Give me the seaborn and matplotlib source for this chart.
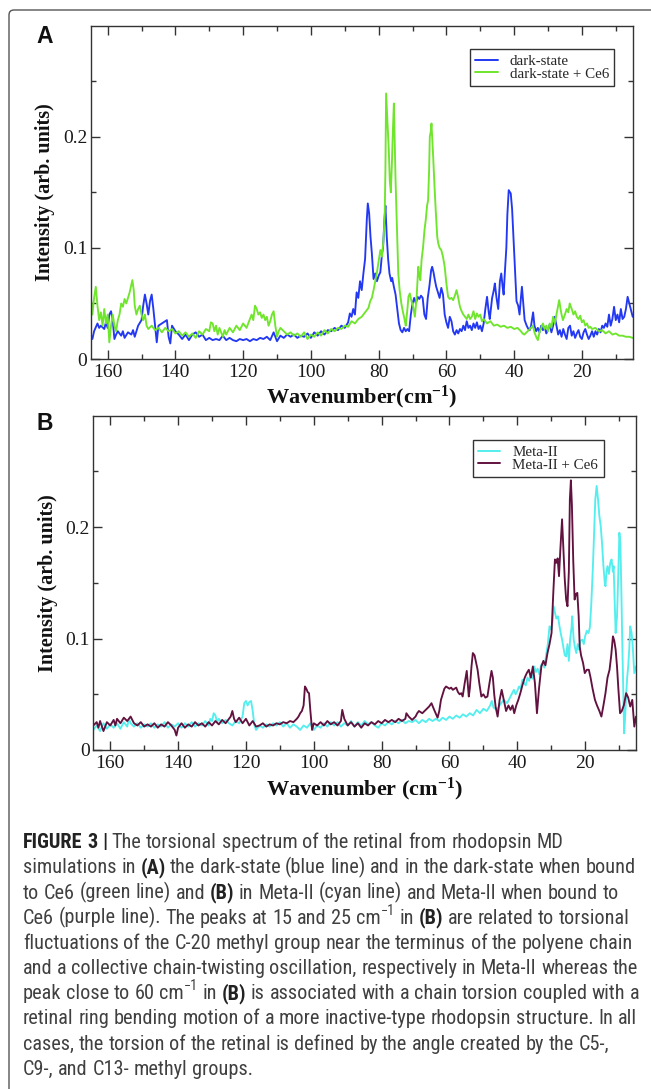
import re
import numpy as np
import pandas as pd
import matplotlib
matplotlib.use("Agg")
import matplotlib.pyplot as plt
import seaborn as sns
from matplotlib import font_manager
from matplotlib.font_manager import FontProperties
from matplotlib.patches import FancyBboxPatch
from matplotlib.ticker import FixedLocator
from matplotlib.transforms import IdentityTransform

# ---------------- data (wavenumber cm^-1, intensity arb. units) ----------------
dark_state = [
    (165, 0.022), (164.5, 0.018), (164, 0.025), (163, 0.032), (162.5, 0.028), (162, 0.030),
    (161, 0.027), (160.5, 0.033), (160, 0.028), (159.5, 0.040), (159, 0.043), (158.5, 0.035),
    (158, 0.018), (157.5, 0.022), (157, 0.025), (156, 0.021), (155.5, 0.025), (155, 0.019),
    (154, 0.024), (153, 0.022), (152.5, 0.026), (152, 0.020), (151, 0.030), (150, 0.035),
    (149.5, 0.048), (149, 0.058), (148.5, 0.050), (148, 0.040), (147.5, 0.052), (147, 0.058),
    (146.5, 0.045), (146, 0.030), (145.5, 0.015), (145, 0.030), (144, 0.032), (143, 0.034),
    (142.5, 0.035), (142, 0.020), (141.5, 0.014), (141, 0.030), (140, 0.025), (139, 0.022),
    (138, 0.018), (137, 0.022), (136, 0.017), (135, 0.022), (134, 0.024), (133, 0.020),
    (132, 0.022), (131, 0.017), (130, 0.019), (129, 0.017), (128, 0.018), (127, 0.017),
    (126, 0.021), (125, 0.017), (124, 0.019), (123, 0.017), (122, 0.016), (121, 0.018),
    (120, 0.017), (119, 0.018), (118, 0.016), (117, 0.018), (116, 0.017), (115, 0.019),
    (114, 0.018), (113, 0.020), (112, 0.017), (111, 0.024), (110, 0.016), (109, 0.021),
    (108, 0.019), (107, 0.022), (106, 0.020), (105, 0.022), (104, 0.019), (103, 0.021),
    (102, 0.020), (101, 0.023), (100, 0.019), (99, 0.024), (98, 0.021), (97, 0.025),
    (96, 0.022), (95, 0.026), (94, 0.025), (93, 0.028), (92, 0.026), (91, 0.030),
    (90, 0.028), (89, 0.033), (88.5, 0.041), (88, 0.038), (87.5, 0.045), (87, 0.040),
    (86.5, 0.060), (86, 0.055), (85.5, 0.070), (85, 0.062), (84.5, 0.077), (84, 0.090),
    (83.5, 0.125), (83.2, 0.140), (82.8, 0.131), (82.4, 0.110), (82, 0.095), (81.5, 0.072),
    (81, 0.077), (80.5, 0.070), (80, 0.075), (79.5, 0.078), (79, 0.095), (78.7, 0.100),
    (78.3, 0.125), (78, 0.138), (77.6, 0.110), (77.2, 0.090), (76.8, 0.077), (76.3, 0.070),
    (76, 0.073), (75.5, 0.065), (75, 0.058), (74.5, 0.045), (74, 0.032), (73.5, 0.026),
    (73, 0.024), (72.5, 0.028), (72, 0.025), (71.5, 0.027), (71, 0.025), (70.5, 0.040),
    (70, 0.050), (69.5, 0.055), (69, 0.050), (68.5, 0.056), (68, 0.054), (67.5, 0.057),
    (67, 0.055), (66.5, 0.040), (66, 0.036), (65.5, 0.055), (65, 0.066), (64.5, 0.080),
    (64.2, 0.083), (63.8, 0.078), (63.4, 0.071), (63, 0.065), (62.5, 0.060), (62, 0.055),
    (61.5, 0.064), (61, 0.058), (60.5, 0.040), (60, 0.033), (59.5, 0.028), (59, 0.038),
    (58.5, 0.034), (58, 0.025), (57.5, 0.022), (57, 0.026), (56.5, 0.023), (56, 0.027),
    (55.5, 0.025), (55, 0.030), (54.5, 0.026), (54, 0.034), (53.5, 0.028), (53, 0.030),
    (52.5, 0.026), (52, 0.032), (51.5, 0.028), (51, 0.033), (50.5, 0.027), (50, 0.030),
    (49.5, 0.025), (49, 0.032), (48.5, 0.045), (48, 0.056), (47.5, 0.042), (47.2, 0.036),
    (46.5, 0.055), (46, 0.062), (45.7, 0.068), (45.2, 0.055), (44.7, 0.045), (44.2, 0.070),
    (43.8, 0.077), (43.4, 0.065), (43.1, 0.058), (42.7, 0.080), (42.3, 0.100), (42, 0.130),
    (41.6, 0.152), (41, 0.149), (40.6, 0.135), (40.2, 0.110), (39.8, 0.085), (39.3, 0.052),
    (38.8, 0.048), (38.4, 0.040), (38, 0.055), (37.7, 0.065), (37.3, 0.050), (36.9, 0.035),
    (36.3, 0.030), (35.8, 0.027), (35.4, 0.026), (35, 0.030), (34.4, 0.042), (34, 0.030),
    (33.5, 0.025), (33, 0.028), (32.5, 0.024), (32, 0.030), (31.5, 0.026), (31, 0.029),
    (30.5, 0.023), (30, 0.027), (29.5, 0.031), (29, 0.024), (28.5, 0.030), (28, 0.038),
    (27.5, 0.030), (27, 0.022), (26.5, 0.026), (26, 0.020), (25.5, 0.027), (25, 0.022),
    (24.5, 0.018), (24, 0.028), (23.5, 0.030), (23, 0.021), (22.5, 0.025), (22, 0.019),
    (21.5, 0.023), (21, 0.026), (20.5, 0.020), (20, 0.018), (19.5, 0.024), (19, 0.027),
    (18.5, 0.022), (18, 0.018), (17.5, 0.021), (17, 0.025), (16.5, 0.020), (16, 0.025),
    (15.5, 0.022), (15, 0.027), (14.5, 0.024), (14, 0.030), (13.5, 0.028), (13, 0.032),
    (12.5, 0.029), (12, 0.040), (11.5, 0.030), (11, 0.036), (10.5, 0.047), (10, 0.035),
    (9.5, 0.040), (9, 0.033), (8.5, 0.045), (8, 0.036), (7.5, 0.038), (7, 0.045),
    (6.5, 0.056), (6, 0.050), (5.5, 0.044), (5, 0.038),
]

dark_state_ce6 = [
    (165, 0.058), (164.5, 0.040), (164, 0.055), (163.5, 0.065), (163, 0.048), (162.5, 0.035),
    (162, 0.042), (161.5, 0.030), (161, 0.045), (160.5, 0.032), (160, 0.040), (159.5, 0.015),
    (159, 0.030), (158.5, 0.040), (158, 0.030), (157.5, 0.025), (157, 0.035), (156.5, 0.040),
    (156, 0.050), (155.5, 0.047), (155, 0.054), (154.5, 0.050), (154, 0.055), (153.5, 0.060),
    (153, 0.067), (152.7, 0.071), (152.3, 0.062), (152, 0.048), (151.5, 0.040), (151, 0.045),
    (150.5, 0.048), (150, 0.040), (149.5, 0.035), (149, 0.040), (148.5, 0.030), (148, 0.027),
    (147, 0.030), (146, 0.026), (145, 0.028), (144, 0.024), (143, 0.028), (142, 0.025),
    (141, 0.027), (140, 0.023), (139, 0.025), (138, 0.021), (137, 0.024), (136, 0.020),
    (135, 0.023), (134, 0.019), (133, 0.025), (132, 0.022), (131, 0.027), (130, 0.025),
    (129.5, 0.033), (129, 0.032), (128.5, 0.025), (128, 0.030), (127.5, 0.022), (127, 0.028),
    (126.5, 0.024), (126, 0.020), (125.5, 0.026), (125, 0.022), (124, 0.028), (123, 0.024),
    (122, 0.030), (121, 0.026), (120, 0.032), (119, 0.028), (118, 0.036), (117.5, 0.040),
    (117, 0.035), (116.5, 0.048), (116, 0.045), (115.5, 0.040), (115, 0.042), (114.5, 0.037),
    (114, 0.040), (113.5, 0.035), (113, 0.038), (112.5, 0.030), (112, 0.034), (111.5, 0.040),
    (111, 0.043), (110.5, 0.030), (110, 0.020), (109.5, 0.025), (109, 0.028), (108, 0.025),
    (107, 0.022), (106, 0.024), (105, 0.021), (104, 0.023), (103, 0.020), (102, 0.024),
    (101, 0.018), (100, 0.022), (99, 0.020), (98, 0.024), (97, 0.021), (96, 0.026),
    (95, 0.023), (94, 0.027), (93, 0.025), (92, 0.028), (91, 0.027), (90, 0.030),
    (89, 0.029), (88, 0.034), (87, 0.032), (86, 0.036), (85, 0.038), (84, 0.042),
    (83, 0.046), (82.5, 0.052), (82, 0.055), (81.5, 0.062), (81, 0.070), (80.5, 0.078),
    (80, 0.088), (79.5, 0.098), (79, 0.092), (78.5, 0.110), (78.2, 0.131), (78, 0.170),
    (77.8, 0.239), (77.5, 0.220), (77, 0.188), (76.7, 0.160), (76.4, 0.150), (76.1, 0.175),
    (75.8, 0.205), (75.5, 0.230), (75.2, 0.190), (75, 0.160), (74.6, 0.120), (74.2, 0.077),
    (73.8, 0.062), (73.3, 0.050), (72.8, 0.042), (72.3, 0.035), (72, 0.030), (71.5, 0.045),
    (71.2, 0.056), (70.8, 0.059), (70.3, 0.052), (69.8, 0.047), (69.3, 0.038), (68.8, 0.055),
    (68.3, 0.083), (68, 0.075), (67.7, 0.071), (67.3, 0.090), (66.9, 0.100), (66.5, 0.115),
    (66.1, 0.125), (65.7, 0.138), (65.4, 0.143), (65.1, 0.170), (64.9, 0.200), (64.6, 0.205),
    (64.4, 0.212), (64.1, 0.195), (63.9, 0.182), (63.5, 0.155), (63.1, 0.131), (62.7, 0.110),
    (62.4, 0.104), (62, 0.100), (61.5, 0.098), (61, 0.092), (60.5, 0.083), (60, 0.068),
    (59.5, 0.056), (59, 0.054), (58.5, 0.055), (58, 0.053), (57.5, 0.057), (57, 0.062),
    (56.5, 0.055), (56, 0.047), (55.5, 0.043), (55, 0.040), (54.5, 0.038), (54, 0.036),
    (53.5, 0.040), (53, 0.036), (52.5, 0.038), (52, 0.043), (51.5, 0.036), (51, 0.041),
    (50.5, 0.038), (50, 0.040), (49.5, 0.034), (49, 0.036), (48, 0.032), (47, 0.034),
    (46, 0.030), (45, 0.031), (44, 0.029), (43, 0.030), (42, 0.028), (41, 0.029),
    (40, 0.027), (39, 0.028), (38, 0.025), (37.5, 0.023), (37, 0.022), (36, 0.025),
    (35, 0.028), (34.5, 0.030), (34, 0.024), (33.5, 0.020), (33, 0.017), (32.5, 0.024),
    (32, 0.028), (31.5, 0.032), (31, 0.027), (30.5, 0.030), (30, 0.025), (29.5, 0.032),
    (29, 0.028), (28.5, 0.038), (28, 0.032), (27.5, 0.040), (27, 0.048), (26.7, 0.053),
    (26.3, 0.045), (26, 0.040), (25.6, 0.035), (25, 0.040), (24.5, 0.045), (24, 0.042),
    (23.6, 0.050), (23, 0.045), (22.5, 0.040), (22, 0.043), (21.5, 0.038), (21, 0.036),
    (20.5, 0.039), (20, 0.033), (19.5, 0.035), (19, 0.030), (18.5, 0.032), (18, 0.028),
    (17.5, 0.029), (17, 0.027), (16, 0.028), (15, 0.025), (14, 0.026), (13, 0.023),
    (12, 0.025), (11, 0.022), (10, 0.023), (9, 0.021), (8, 0.021), (7, 0.020),
    (6, 0.020), (5, 0.019),
]

meta_ii = [
    (165, 0.018), (164, 0.022), (163, 0.017), (162, 0.024), (161, 0.019), (160, 0.023),
    (159, 0.020), (158, 0.024), (157, 0.019), (156, 0.025), (155, 0.021), (154.5, 0.028),
    (154, 0.024), (153, 0.021), (152, 0.024), (151, 0.020), (150, 0.023), (149, 0.021),
    (148, 0.024), (147, 0.020), (146, 0.023), (145, 0.021), (144, 0.025), (143, 0.020),
    (142, 0.023), (141, 0.021), (140, 0.024), (139, 0.020), (138, 0.024), (137, 0.021),
    (136, 0.025), (135, 0.021), (134, 0.024), (133, 0.022), (132, 0.026), (131, 0.022),
    (130.5, 0.028), (130, 0.026), (129.5, 0.033), (129, 0.031), (128.5, 0.025), (128, 0.028),
    (127, 0.024), (126, 0.027), (125, 0.024), (124, 0.022), (123, 0.026), (122, 0.024),
    (121, 0.030), (120.5, 0.042), (120, 0.044), (119.5, 0.040), (119, 0.043), (118.5, 0.044),
    (118, 0.035), (117.5, 0.022), (117, 0.018), (116, 0.022), (115, 0.020), (114, 0.023),
    (113, 0.021), (112, 0.024), (111, 0.022), (110, 0.025), (109, 0.021), (108, 0.024),
    (107, 0.020), (106, 0.023), (105, 0.021), (104, 0.018), (103, 0.022), (102, 0.020),
    (101, 0.024), (100, 0.018), (99, 0.022), (98, 0.020), (97, 0.024), (96, 0.021),
    (95, 0.025), (94, 0.022), (93, 0.025), (92, 0.021), (91, 0.024), (90, 0.022),
    (89, 0.026), (88, 0.021), (87, 0.025), (86, 0.022), (85, 0.026), (84, 0.023),
    (83, 0.025), (82, 0.022), (81, 0.020), (80, 0.024), (79, 0.022), (78, 0.025),
    (77, 0.023), (76, 0.026), (75, 0.024), (74, 0.027), (73, 0.024), (72, 0.026),
    (71, 0.025), (70, 0.027), (69, 0.024), (68, 0.027), (67, 0.025), (66, 0.028),
    (65, 0.026), (64, 0.028), (63, 0.026), (62, 0.029), (61, 0.027), (60, 0.030),
    (59, 0.028), (58, 0.031), (57, 0.029), (56, 0.032), (55, 0.030), (54, 0.033),
    (53, 0.031), (52, 0.036), (51, 0.033), (50, 0.037), (49, 0.035), (48, 0.040),
    (47.5, 0.044), (47, 0.038), (46, 0.036), (45, 0.041), (44, 0.045), (43, 0.042),
    (42, 0.048), (41, 0.054), (40.5, 0.050), (40, 0.053), (39.5, 0.057), (39, 0.055),
    (38.5, 0.063), (38, 0.060), (37.5, 0.058), (37, 0.065), (36.5, 0.062), (36, 0.068),
    (35.5, 0.064), (35, 0.075), (34.5, 0.070), (34, 0.073), (33.5, 0.068), (33, 0.076),
    (32.4, 0.078), (32, 0.074), (31.5, 0.085), (31, 0.095), (30.5, 0.111), (30, 0.108),
    (29.6, 0.115), (29.3, 0.129), (29, 0.125), (28.5, 0.118), (28, 0.120), (27.5, 0.110),
    (27.2, 0.105), (26.8, 0.099), (26.4, 0.092), (26, 0.085), (25.6, 0.084), (25.2, 0.095),
    (24.8, 0.080), (24.4, 0.100), (24, 0.110), (23.8, 0.120), (23.4, 0.100), (23, 0.092),
    (22.6, 0.087), (22.2, 0.095), (21.8, 0.090), (21.4, 0.098), (20.8, 0.099), (20.4, 0.095),
    (20, 0.102), (19.5, 0.107), (19, 0.105), (18.6, 0.110), (18.2, 0.130), (17.7, 0.165),
    (17.3, 0.200), (17, 0.225), (16.6, 0.237), (16.2, 0.225), (15.8, 0.210), (15.4, 0.201),
    (15, 0.185), (14.6, 0.165), (14.2, 0.150), (14, 0.147), (13.7, 0.160), (13.4, 0.165),
    (13, 0.158), (12.6, 0.168), (12.2, 0.171), (11.8, 0.160), (11.6, 0.165), (11.3, 0.135),
    (11, 0.105), (10.6, 0.120), (10.2, 0.160), (9.9, 0.195), (9.6, 0.185), (9.3, 0.140),
    (9.1, 0.105), (8.8, 0.060), (8.5, 0.015), (8.2, 0.030), (7.9, 0.050), (7.6, 0.065),
    (7.3, 0.075), (7, 0.090), (6.7, 0.111), (6.3, 0.105), (6, 0.095), (5.5, 0.069),
    (5, 0.075),
]

meta_ii_ce6 = [
    (165, 0.022), (164, 0.025), (163.5, 0.020), (163, 0.026), (162, 0.017), (161, 0.025),
    (160, 0.022), (159, 0.027), (158.5, 0.022), (158, 0.028), (157, 0.024), (156, 0.029),
    (155, 0.026), (154, 0.030), (153, 0.024), (152, 0.022), (151, 0.025), (150, 0.021),
    (149, 0.023), (148, 0.021), (147, 0.024), (146, 0.020), (145, 0.023), (144, 0.021),
    (143, 0.025), (142, 0.022), (141, 0.018), (140.5, 0.013), (140, 0.020), (139, 0.024),
    (138, 0.020), (137, 0.023), (136, 0.021), (135, 0.025), (134, 0.022), (133, 0.024),
    (132, 0.021), (131, 0.025), (130, 0.022), (129, 0.026), (128, 0.023), (127, 0.027),
    (126, 0.024), (125, 0.028), (124.5, 0.030), (124, 0.035), (123.5, 0.028), (123, 0.025),
    (122, 0.029), (121, 0.024), (120, 0.028), (119, 0.022), (118, 0.026), (117, 0.021),
    (116, 0.022), (115, 0.024), (114, 0.021), (113, 0.023), (112, 0.022), (111, 0.024),
    (110, 0.023), (109, 0.025), (108, 0.024), (107, 0.026), (106, 0.025), (105, 0.028),
    (104.5, 0.030), (104, 0.033), (103.5, 0.035), (103, 0.040), (102.6, 0.057), (102.2, 0.055),
    (101.8, 0.052), (101.4, 0.051), (101, 0.035), (100.5, 0.018), (100, 0.024), (99, 0.022),
    (98, 0.025), (97, 0.022), (96, 0.026), (95, 0.023), (94, 0.025), (93, 0.022),
    (92, 0.026), (91.6, 0.036), (91, 0.028), (90, 0.022), (89, 0.025), (88, 0.021),
    (87, 0.024), (86, 0.020), (85, 0.024), (84, 0.022), (83, 0.025), (82, 0.023),
    (81, 0.026), (80, 0.024), (79, 0.027), (78, 0.025), (77, 0.027), (76, 0.025),
    (75, 0.028), (74, 0.026), (73, 0.028), (72.7, 0.033), (72, 0.030), (71, 0.027),
    (70, 0.030), (69.5, 0.033), (69, 0.035), (68, 0.033), (67, 0.036), (66, 0.039),
    (65.3, 0.042), (64.5, 0.036), (63.5, 0.029), (63, 0.035), (62.5, 0.045), (62, 0.050),
    (61.5, 0.055), (61, 0.057), (60.5, 0.056), (60, 0.055), (59.5, 0.056), (59, 0.054),
    (58.5, 0.055), (58, 0.056), (57.5, 0.052), (57, 0.050), (56.5, 0.051), (56.1, 0.048),
    (55.5, 0.060), (54.9, 0.071), (54.6, 0.060), (54.3, 0.048), (54, 0.055), (53.5, 0.075),
    (53.1, 0.087), (52.6, 0.085), (52.1, 0.078), (51.7, 0.072), (51.2, 0.060), (50.6, 0.048),
    (50, 0.050), (49.4, 0.047), (48.8, 0.048), (48.2, 0.060), (47.6, 0.071), (47.2, 0.065),
    (46.8, 0.050), (46.4, 0.039), (45.8, 0.030), (45.2, 0.045), (44.6, 0.054), (44, 0.045),
    (43.3, 0.035), (42.6, 0.040), (42, 0.036), (41.4, 0.040), (40.9, 0.033), (40.3, 0.040),
    (39.7, 0.045), (39.1, 0.051), (38.5, 0.058), (37.8, 0.065), (37.2, 0.069), (36.6, 0.072),
    (36, 0.065), (35.4, 0.075), (34.8, 0.060), (34.2, 0.033), (33.6, 0.055), (32.9, 0.075),
    (32.3, 0.080), (31.7, 0.076), (31.1, 0.087), (30.5, 0.095), (29.9, 0.105), (29.4, 0.140),
    (28.9, 0.171), (28.5, 0.168), (28.1, 0.172), (27.7, 0.156), (27.3, 0.180), (26.8, 0.207),
    (26.4, 0.180), (26, 0.153), (25.6, 0.135), (25.2, 0.129), (24.8, 0.160), (24.5, 0.225),
    (24.2, 0.242), (23.9, 0.220), (23.5, 0.170), (23.1, 0.135), (22.7, 0.140), (22.3, 0.141),
    (21.9, 0.120), (21.6, 0.093), (21.2, 0.085), (20.6, 0.078), (20.1, 0.069), (19.5, 0.072),
    (18.9, 0.072), (18.4, 0.065), (17.8, 0.055), (17.1, 0.045), (16.5, 0.040), (15.8, 0.035),
    (15.2, 0.030), (14.6, 0.040), (14, 0.051), (13.4, 0.065), (12.8, 0.072), (12.3, 0.085),
    (11.8, 0.102), (11.4, 0.098), (11, 0.090), (10.6, 0.075), (10.2, 0.055), (9.7, 0.033),
    (9.2, 0.035), (8.6, 0.040), (7.9, 0.051), (7.3, 0.047), (6.7, 0.039), (6.1, 0.045),
    (5.5, 0.021), (5, 0.030),
]

names_a = ["dark-state", "dark-state + Ce6"]
names_b = ["Meta-II", "Meta-II + Ce6"]
colors_a = ["#2238f2", "#6fe52c"]
colors_b = ["#55eeee", "#62123f"]
x_major = [160, 140, 120, 100, 80, 60, 40, 20]
x_minor = [150, 130, 110, 90, 70, 50, 30, 10]
y_major = [0, 0.1, 0.2]
y_major_labels = ["0", "0.1", "0.2"]
y_minor = [0.05, 0.15, 0.25]

caption_lines = [
    "**FIGURE 3 |** The torsional spectrum of the retinal from rhodopsin MD",
    "simulations in **(A)** the dark-state (blue line) and in the dark-state when bound",
    "to Ce6 (green line) and **(B)** in Meta-II (cyan line) and Meta-II when bound to",
    "Ce6 (purple line). The peaks at 15 and 25 cm^{\u22121} in **(B)** are related to torsional",
    "fluctuations of the C-20 methyl group near the terminus of the polyene chain",
    "and a collective chain-twisting oscillation, respectively in Meta-II whereas the",
    "peak close to 60 cm^{\u22121} in **(B)** is associated with a chain torsion coupled with a",
    "retinal ring bending motion of a more inactive-type rhodopsin structure. In all",
    "cases, the torsion of the retinal is defined by the angle created by the C5-,",
    "C9-, and C13- methyl groups.",
]

# ---------------- style ----------------
W, H = 651, 1089
sns.set_style("ticks")
plt.rcParams["font.family"] = ["Liberation Serif", "DejaVu Serif"]
plt.rcParams["mathtext.fontset"] = "custom"
plt.rcParams["mathtext.rm"] = "Liberation Serif"
plt.rcParams["mathtext.bf"] = "Liberation Serif:bold"
plt.rcParams["mathtext.it"] = "Liberation Serif:italic"
plt.rcParams["axes.edgecolor"] = "#333333"

avail = {f.name for f in font_manager.fontManager.ttflist}
cap_family = "Liberation Sans"
for cand in ["Liberation Sans Narrow", "Roboto Condensed", "Open Sans Condensed", "Liberation Sans"]:
    if cand in avail:
        cap_family = cand
        break

fig = plt.figure(figsize=(W / 100, H / 100), dpi=100)
fig.patch.set_facecolor("white")


def px_rect(left, top, right, bottom):
    return [left / W, 1 - bottom / H, (right - left) / W, (bottom - top) / H]


axA = fig.add_axes(px_rect(90.7, 25.7, 632.7, 359.0))
axB = fig.add_axes(px_rect(93.3, 415.7, 636.0, 750.0))


def draw_panel(ax, series, names, colors, xlabel, xlab_y, leg_anchor):
    frames = []
    for s, n in zip(series, names):
        wn, inten = zip(*s)
        frames.append(pd.DataFrame({"wn": wn, "intensity": inten, "series": n}))
    df = pd.concat(frames, ignore_index=True)
    sns.lineplot(data=df, x="wn", y="intensity", hue="series", hue_order=names,
                 palette=dict(zip(names, colors)), sort=False, estimator=None,
                 linewidth=1.35, ax=ax)
    ax.set_xlim(165, 5)
    ax.set_ylim(0, 0.3)
    ax.xaxis.set_major_locator(FixedLocator(x_major))
    ax.xaxis.set_minor_locator(FixedLocator(x_minor))
    ax.set_xticklabels([str(v) for v in x_major])
    ax.yaxis.set_major_locator(FixedLocator(y_major))
    ax.yaxis.set_minor_locator(FixedLocator(y_minor))
    ax.set_yticklabels(y_major_labels)
    for sp in ax.spines.values():
        sp.set_visible(True)
        sp.set_linewidth(1.0)
        sp.set_color("#333333")
    ax.tick_params(which="both", direction="in", top=True, right=True,
                   width=1.0, color="#333333", labelcolor="#1a1a1a")
    ax.tick_params(which="major", length=6.5)
    ax.tick_params(which="minor", length=3.4)
    ax.tick_params(axis="x", which="major", labelsize=14, pad=3.6)
    ax.tick_params(axis="y", which="major", labelsize=14, pad=2.5)
    ax.set_xlabel(xlabel, fontsize=16, fontweight="bold", va="center", color="#111111")
    ax.xaxis.set_label_coords(0.5, xlab_y)
    ax.set_ylabel("Intensity (arb. units)", fontsize=14.5, fontweight="bold",
                  va="center", ha="center", color="#111111")
    ax.yaxis.set_label_coords(-0.0843, 0.5)
    old = ax.get_legend()
    handles = old.legend_handles
    labels = [t.get_text() for t in old.get_texts()]
    old.remove()
    leg = ax.legend(handles, labels, loc="upper left", bbox_to_anchor=leg_anchor,
                    borderaxespad=0, fontsize=10.8, frameon=True, fancybox=False,
                    framealpha=1, edgecolor="#333333", handlelength=1.5,
                    handletextpad=0.8, borderpad=0.35, labelspacing=-0.05)
    leg.get_frame().set_linewidth(1.0)
    for h in leg.legend_handles:
        h.set_linewidth(1.4)


draw_panel(axA, [dark_state, dark_state_ce6], names_a, colors_a,
           "Wavenumber(cm$^{\\mathbf{-1}}$)", (359 - 397) / 333.3, (0.6998, 0.930))
draw_panel(axB, [meta_ii, meta_ii_ce6], names_b, colors_b,
           "Wavenumber (cm$^{\\mathbf{-1}}$)", (750 - 789) / 334.3, (0.699, 0.927))

# panel letters
for letter, (lx, ly) in {"A": (45, 36.7), "B": (45, 424)}.items():
    fig.text(lx / W, 1 - ly / H, letter, ha="center", va="center", fontsize=16.5,
             fontweight="bold", family=["Liberation Sans", "DejaVu Sans"], color="#111111")

# outer border (open to the right and bottom like the page crop)
border = FancyBboxPatch((9, -30), 700, H - 10 + 30, boxstyle="round,pad=0,rounding_size=5",
                        transform=IdentityTransform(), fill=False, ec="#555555", lw=1.0)
fig.add_artist(border)

# ---------------- caption ----------------
renderer = fig.canvas.get_renderer()


def tokens(line):
    out = []
    carry = False
    for seg in re.split(r"(\*\*.*?\*\*|\^\{.*?\})", line):
        if not seg:
            continue
        if seg.startswith("**"):
            style, txt = "b", seg[2:-2]
        elif seg.startswith("^{"):
            style, txt = "s", seg[2:-1]
        else:
            style, txt = "n", seg
        first = True
        for m in re.finditer(r"(\s*)(\S+)", txt):
            sp = bool(m.group(1)) or (first and carry)
            out.append((m.group(2), style, sp))
            first = False
        carry = txt[-1].isspace() if txt else carry
    return out


def props(style, size):
    if style == "b":
        return FontProperties(family=cap_family, weight="bold", size=size)
    if style == "s":
        return FontProperties(family=cap_family, size=size * 0.7)
    return FontProperties(family=cap_family, size=size)


def adv(s, fp):
    w1 = renderer.get_text_width_height_descent("x" + s + "x", fp, ismath=False)[0]
    w0 = renderer.get_text_width_height_descent("xx", fp, ismath=False)[0]
    return w1 - w0


x0 = 23.0
base0 = 848.3
lead = 25.15
target_right = 640.0


def draw_caption(size):
    arts = []
    right = 0.0
    sp_w = adv(" ", props("n", size))
    for i, line in enumerate(caption_lines):
        yb = base0 + i * lead
        x = x0
        for j, (t, st, sp) in enumerate(tokens(line)):
            if sp and j > 0:
                x += sp_w
            fp = props(st, size)
            dy = 0.45 * size * 100 / 72 if st == "s" else 0.0
            col = "#222222" if st == "b" else "#404040"
            a = fig.text(x / W, 1 - (yb - dy) / H, t, fontproperties=fp, ha="left",
                         va="baseline", color=col)
            arts.append(a)
            x += adv(t, fp)
        last = arts[-1].get_window_extent(renderer)
        right = max(right, last.x1)
    return arts, right


size = 14.0
for k in range(4):
    arts, right = draw_caption(size)
    if abs(right - target_right) < 3 or (k == 3):
        if right <= 649:
            break
    for a in arts:
        a.remove()
    size = min(size * (target_right - x0) / (right - x0), 15.0)

fig.savefig("out.png", dpi=100)
